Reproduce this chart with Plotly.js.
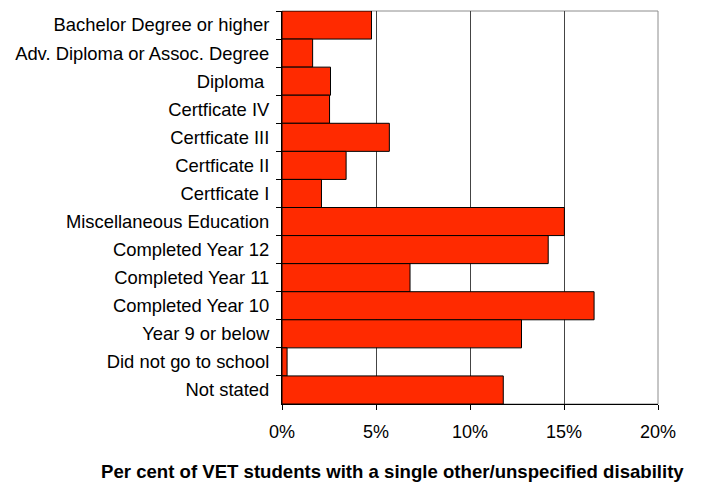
<!DOCTYPE html>
<html>
<head>
<meta charset="utf-8">
<script src="https://cdn.plot.ly/plotly-3.0.1.min.js"></script>
<style>html,body{margin:0;padding:0;background:#fff;}#chart{width:703px;height:484px;}</style>
</head>
<body>
<div id="chart"></div>
<script>
const categories = [
  "Bachelor Degree or higher",
  "Adv. Diploma or Assoc. Degree",
  "Diploma ",
  "Certficate IV",
  "Certficate III",
  "Certficate II",
  "Certficate I",
  "Miscellaneous Education",
  "Completed Year 12",
  "Completed Year 11",
  "Completed Year 10",
  "Year 9 or below",
  "Did not go to school",
  "Not stated"
];
const values = [4.76, 1.63, 2.58, 2.53, 5.71, 3.41, 2.10, 15.02, 14.16, 6.81, 16.6, 12.74, 0.27, 11.77];
const xTickVals = [0, 5, 10, 15, 20];
const xTickText = ["0%", "5%", "10%", "15%", "20%"];
const xTitle = "Per cent of VET students with a single other/unspecified disability";

const font = "Liberation Sans, Arial, sans-serif";

const trace = {
  type: "bar",
  orientation: "h",
  y: categories,
  x: values,
  marker: { color: "#ff2a00", line: { color: "#000", width: 1 } },
  width: 1,
  hoverinfo: "skip"
};

const layout = {
  width: 703,
  height: 484,
  margin: { l: 282, r: 45, t: 11, b: 80, pad: 0 },
  paper_bgcolor: "#fff",
  plot_bgcolor: "#fff",
  showlegend: false,
  bargap: 0,
  font: { family: font, size: 18, color: "#000" },
  xaxis: {
    range: [0, 20],
    tickvals: xTickVals,
    ticktext: xTickText,
    ticks: "outside",
    ticklen: 5,
    tickcolor: "#000",
    showgrid: true,
    gridcolor: "#444",
    gridwidth: 1,
    zeroline: false,
    showline: true,
    linecolor: "#000",
    linewidth: 1,
    ticklabelstandoff: 6,
    tickfont: { family: font, size: 18, color: "#000" },
    fixedrange: true
  },
  yaxis: {
    type: "category",
    categoryorder: "array",
    categoryarray: categories,
    autorange: "reversed",
    tickson: "boundaries",
    ticks: "outside",
    ticklen: 5,
    tickcolor: "#000",
    showgrid: false,
    zeroline: false,
    showline: true,
    linecolor: "#000",
    linewidth: 1,
    ticklabelstandoff: 8,
    tickfont: { family: font, size: 18.4, color: "#000" },
    fixedrange: true
  },
  shapes: [
    { type: "rect", xref: "paper", yref: "paper", x0: 0, x1: 1, y0: 0, y1: 1,
      line: { color: "#8c8c8c", width: 1 }, layer: "below" }
  ],
  annotations: [
    { text: "<b>" + xTitle + "</b>", xref: "paper", yref: "paper",
      x: 0.295, y: -0.172, xanchor: "center", yanchor: "middle", showarrow: false,
      font: { family: font, size: 18.6, color: "#000" } }
  ]
};

Plotly.newPlot("chart", [trace], layout, { displayModeBar: false, staticPlot: true });
</script>
</body>
</html>
